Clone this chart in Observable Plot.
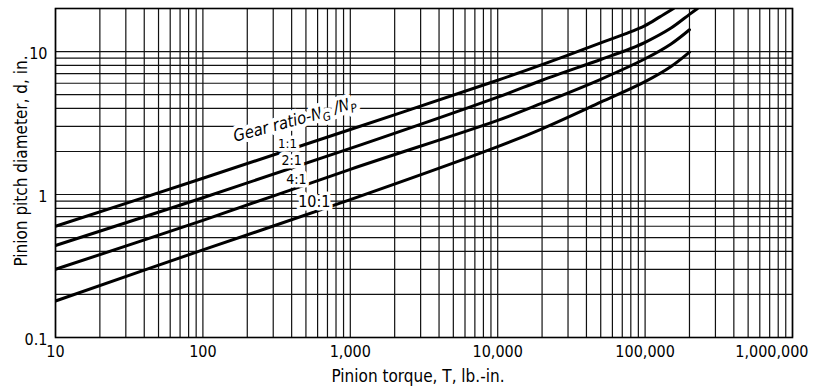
<!DOCTYPE html>
<html>
<head>
<meta charset="utf-8">
<script src="https://cdn.jsdelivr.net/npm/d3@7"></script>
<script src="https://cdn.jsdelivr.net/npm/@observablehq/plot@0.6"></script>
<style>
  html, body { margin: 0; padding: 0; background: #fff; }
  #chart { width: 822px; height: 390px; }
</style>
</head>
<body>
<div id="chart"></div>
<script>
// ---- data ----
const ratios = ["1:1", "2:1", "4:1", "10:1"];

const torque11 = [10, 100, 1000, 10000, 20000, 50000, 75000, 100000, 125000, 156000];
const diam11   = [0.60, 1.30, 2.85, 6.3, 8.1, 11.5, 13.4, 15.2, 17.4, 20];

const torque21 = [10, 100, 1000, 10000, 20000, 50000, 80000, 100000, 150000, 200000, 227000];
const diam21   = [0.44, 0.95, 2.1, 4.8, 6.3, 8.8, 10.5, 11.6, 14.6, 18.2, 20];

const torque41 = [10, 100, 1000, 10000, 20000, 50000, 100000, 150000, 200000];
const diam41   = [0.30, 0.66, 1.5, 3.3, 4.35, 6.4, 8.9, 11.3, 14.2];

const torque101 = [10, 100, 1000, 10000, 20000, 50000, 100000, 150000, 200000];
const diam101   = [0.18, 0.41, 0.92, 2.16, 2.88, 4.42, 6.16, 7.86, 9.9];

const xTickValues = [10, 100, 1000, 10000, 100000];
const xTickLabels = ["10", "100", "1,000", "10,000", "100,000"];
const xLastTick = [1000000];
const xLastLabel = ["1,000,000"];
const yTickValues = [0.1, 1, 10];
const yTickLabels = ["0.1", "1", "10"];

const xTitle = "Pinion torque, T, lb.-in.";
const yTitle = "Pinion pitch diameter, d, in.";
const legendTitle = "Gear ratio-NG /NP";

// ratio labels placed between the curves
const labelText   = ["1:1", "2:1", "4:1", "10:1"];
const labelTorque = [375, 400, 430, 570];
const labelDiam   = [2.27, 1.73, 1.27, 0.89];
const labelSize   = [13, 14, 14, 16];
const legendTorque = [420];
const legendDiam   = [3.3];

// ---- build tables ----
const series = [
  [ratios[0], torque11, diam11],
  [ratios[1], torque21, diam21],
  [ratios[2], torque41, diam41],
  [ratios[3], torque101, diam101]
];
const lineData = series.flatMap(([r, ts, ds]) => ts.map((t, i) => ({ratio: r, T: t, d: ds[i]})));

const xGrid = [];
for (let e = 1; e <= 5; e++) for (let m = 1; m <= 9; m++) xGrid.push(m * Math.pow(10, e));
xGrid.push(1e6);
const yGrid = [];
for (let e = -1; e <= 0; e++) for (let m = 1; m <= 9; m++) yGrid.push(+(m * Math.pow(10, e)).toFixed(3));
yGrid.push(10, 20);

const labels = labelText.map((t, i) => ({text: t, T: labelTorque[i], d: labelDiam[i], size: labelSize[i]}));

const font = "'DejaVu Sans Condensed', 'DejaVu Sans', sans-serif";

const chart = Plot.plot({
  width: 822,
  height: 390,
  marginLeft: 55,
  marginRight: 30,
  marginTop: 8,
  marginBottom: 53,
  style: {fontFamily: font, background: "#fff", color: "#000", overflow: "visible"},
  x: {type: "log", domain: [10, 1e6], axis: null},
  y: {type: "log", domain: [0.1, 20], axis: null},
  marks: [
    Plot.ruleX(xGrid, {x: d => d, stroke: "#111", strokeWidth: 1.2}),
    Plot.ruleY(yGrid, {y: d => d, stroke: "#111", strokeWidth: 1.2}),
    Plot.line(lineData, {x: "T", y: "d", z: "ratio", curve: "catmull-rom", stroke: "#000", strokeWidth: 3, clip: true}),
    ...labels.map(l => Plot.text([l], {
      x: "T", y: "d", text: "text", fontSize: l.size, fill: "#000",
      stroke: "#fff", strokeWidth: 7, textAnchor: "middle", lineAnchor: "middle"
    })),
    Plot.text([legendTitle], {
      x: () => legendTorque[0], y: () => legendDiam[0], text: d => d,
      rotate: -15, fontSize: 16.5, fontStyle: "italic", fill: "#000",
      stroke: "#fff", strokeWidth: 8, textAnchor: "middle", lineAnchor: "middle",
      className: "legend-title"
    }),
    Plot.frame({stroke: "#000", strokeWidth: 1.6}),
    Plot.text(xTickValues, {x: d => d, frameAnchor: "bottom", dy: 14, text: (d, i) => xTickLabels[i], fontSize: 16, textAnchor: "middle", lineAnchor: "middle", fill: "#000"}),
    Plot.text(xLastTick, {x: d => d, frameAnchor: "bottom", dx: 16, dy: 14, text: (d, i) => xLastLabel[i], fontSize: 16, textAnchor: "end", lineAnchor: "middle", fill: "#000"}),
    Plot.text(yTickValues, {y: d => d, frameAnchor: "left", dx: -8, dy: 2, text: (d, i) => yTickLabels[i], fontSize: 16, textAnchor: "end", lineAnchor: "middle", fill: "#000"}),
    Plot.text([xTitle], {frameAnchor: "bottom", dx: -6, dy: 39, text: d => d, fontSize: 17, textAnchor: "middle", lineAnchor: "middle", fill: "#000"}),
    Plot.text([yTitle], {frameAnchor: "left", dx: -34, dy: -12, rotate: -90, text: d => d, fontSize: 17, textAnchor: "middle", lineAnchor: "middle", fill: "#000"})
  ]
});

// subscripts for N_G and N_P in the legend title
d3.select(chart).selectAll("g.legend-title text").each(function() {
  const t = d3.select(this);
  t.text(null);
  t.append("tspan").text("Gear ratio-N");
  t.append("tspan").attr("font-size", "70%").attr("dy", "0.3em").text("G");
  t.append("tspan").attr("dy", "-0.3em").text(" /N");
  t.append("tspan").attr("font-size", "70%").attr("dy", "0.3em").text("P");
});

document.getElementById("chart").appendChild(chart);
</script>
</body>
</html>
